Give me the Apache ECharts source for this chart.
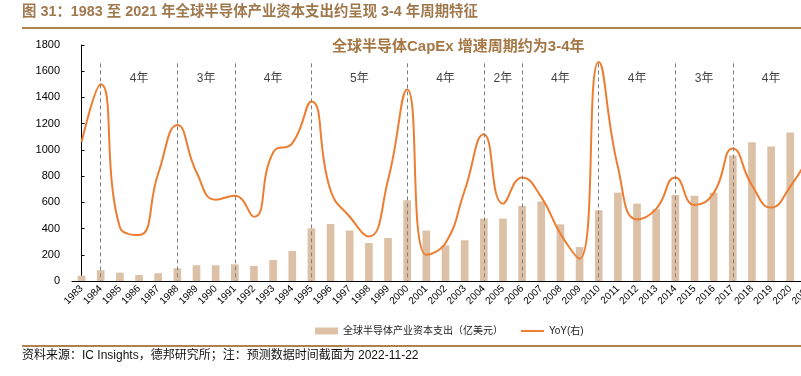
<!DOCTYPE html>
<html>
<head>
<meta charset="utf-8">
<script src="https://cdn.jsdelivr.net/npm/echarts@6/dist/echarts.min.js"></script>
<style>
  html, body { margin: 0; padding: 0; background: #fff; }
  #main { width: 801px; height: 376px; }
</style>
</head>
<body>
<div id="main"></div>
<script>
// 年份（类目轴）
var years = ['1983', '1984', '1985', '1986', '1987', '1988', '1989', '1990', '1991', '1992',
  '1993', '1994', '1995', '1996', '1997', '1998', '1999', '2000', '2001', '2002',
  '2003', '2004', '2005', '2006', '2007', '2008', '2009', '2010', '2011', '2012',
  '2013', '2014', '2015', '2016', '2017', '2018', '2019', '2020', '2021'];

// 全球半导体产业资本支出（亿美元）
var capex = [41, 82, 64, 46, 59, 97, 120, 120, 127, 115,
  160, 229, 402, 435, 385, 290, 328, 616, 385, 272,
  311, 476, 476, 572, 606, 432, 259, 539, 674, 590,
  547, 656, 651, 674, 957, 1058, 1025, 1132, 1520];

// YoY（右轴，%）
var yoy = [46, 90, -19, -25, 22, 59, 23, 2, 5, -11,
  38, 45, 77, 9, -11, -26, 17, 86, -40, -31,
  9, 52, -1, 19, 4, -24, -43, 107, 27, -13,
  -5, 19, -2, 7, 41, 13, -4, 12, 36];

// 周期分界年份与周期长度标注
var cycleYears = ['1984', '1988', '1991', '1995', '2000', '2004', '2006', '2010', '2014', '2017', '2021'];
var cycleLabels = ['4年', '3年', '4年', '5年', '4年', '2年', '4年', '4年', '3年', '4年'];

var leftTicks = { min: 0, max: 1800, interval: 200 };
var rightTicks = { min: -60, max: 120, interval: 20 };

var chart = echarts.init(document.getElementById('main'), null, { renderer: 'canvas' });

var dashLines = [];
for (var i = 0; i < cycleYears.length - 1; i++) {
  dashLines.push([{ coord: [cycleYears[i], 1660] }, { coord: [cycleYears[i], 0] }]);
}

var cycleText = [];
for (var j = 0; j < cycleLabels.length; j++) {
  var a = years.indexOf(cycleYears[j]);
  var b = years.indexOf(cycleYears[j + 1]);
  cycleText.push([(a + b) / 2, 1544, cycleLabels[j]]);
}

var axisColor = '#000';

var option = {
  animation: false,
  title: {
    text: '全球半导体CapEx 增速周期约为3-4年',
    left: 327,
    top: 34,
    textStyle: {
      color: '#a57744',
      fontSize: 15,
      fontWeight: 'bold',
      fontFamily: '"Liberation Sans", "Noto Sans CJK SC", sans-serif'
    }
  },
  legend: {
    left: 310,
    top: 321,
    itemWidth: 23,
    itemHeight: 7,
    itemGap: 17,
    textStyle: {
      fontSize: 10,
      color: '#222',
      fontFamily: '"Liberation Sans", "Noto Sans CJK SC", sans-serif'
    },
    data: [
      { name: '全球半导体产业资本支出（亿美元）', icon: 'rect' },
      { name: 'YoY(右)', itemStyle: { opacity: 0 } }
    ]
  },
  grid: {
    left: 72,
    top: 45,
    width: 747,
    height: 236,
    outerBoundsMode: 'none',
    containLabel: false
  },
  xAxis: [{
    type: 'category',
    data: years,
    axisLine: { lineStyle: { color: axisColor, width: 1 } },
    axisTick: { inside: true, length: 3, lineStyle: { color: axisColor } },
    axisLabel: {
      rotate: 45,
      interval: 0,
      margin: 6,
      fontSize: 10,
      color: '#000',
      fontFamily: '"Liberation Sans", Arial, sans-serif'
    }
  }, {
    type: 'value',
    min: -0.5,
    max: years.length - 0.5,
    show: false
  }],
  yAxis: [{
    type: 'value',
    min: leftTicks.min,
    max: leftTicks.max,
    interval: leftTicks.interval,
    splitLine: { show: false },
    axisLine: { show: true, lineStyle: { color: axisColor, width: 1 } },
    axisTick: { show: true, inside: true, length: 3, lineStyle: { color: axisColor } },
    axisLabel: {
      margin: 12,
      fontSize: 11,
      color: '#000',
      fontFamily: '"Liberation Sans", Arial, sans-serif',
      formatter: function (v) { return String(v); }
    }
  }, {
    type: 'value',
    min: rightTicks.min,
    max: rightTicks.max,
    interval: rightTicks.interval,
    splitLine: { show: false },
    axisLine: { show: true, lineStyle: { color: axisColor } },
    axisLabel: { formatter: '{value}%', fontSize: 11, color: '#000' }
  }],
  series: [
    {
      name: '全球半导体产业资本支出（亿美元）',
      type: 'bar',
      data: capex,
      barWidth: '40%',
      itemStyle: { color: '#dcc1a6' },
      markLine: {
        silent: true,
        symbol: 'none',
        label: { show: false },
        lineStyle: { color: '#808080', type: [4, 3], width: 1 },
        data: dashLines
      },
      z: 2
    },
    {
      name: 'YoY(右)',
      type: 'line',
      yAxisIndex: 1,
      data: yoy,
      smooth: true,
      symbol: 'none',
      lineStyle: { color: '#ed7d31', width: 2 },
      itemStyle: { color: '#ed7d31' },
      z: 3
    },
    {
      name: 'cycle',
      type: 'scatter',
      xAxisIndex: 1,
      data: cycleText,
      symbolSize: 0,
      silent: true,
      label: {
        show: true,
        position: 'inside',
        formatter: function (p) { return p.value[2]; },
        fontSize: 12,
        color: '#111',
        fontFamily: '"Liberation Sans", "Noto Sans CJK SC", sans-serif'
      }
    }
  ],
  graphic: [
    {
      type: 'text',
      left: 22,
      top: 5,
      style: {
        text: '图 31：1983 至 2021 年全球半导体产业资本支出约呈现 3-4 年周期特征',
        fill: '#a0784d',
        font: 'bold 14.4px "Liberation Sans", "Noto Sans CJK SC", sans-serif'
      }
    },
    {
      type: 'rect',
      shape: { x: 22, y: 27, width: 779, height: 2 },
      style: { fill: '#b0804f' }
    },
    {
      type: 'rect',
      shape: { x: 22, y: 345, width: 779, height: 2 },
      style: { fill: '#b0804f' }
    },
    {
      type: 'text',
      left: 22,
      top: 350,
      style: {
        text: '资料来源：IC Insights，德邦研究所；注：预测数据时间截面为 2022-11-22',
        fill: '#111',
        font: '12px "Liberation Sans", "Noto Sans CJK SC", sans-serif'
      }
    }
  ]
};

chart.setOption(option);
</script>
</body>
</html>
